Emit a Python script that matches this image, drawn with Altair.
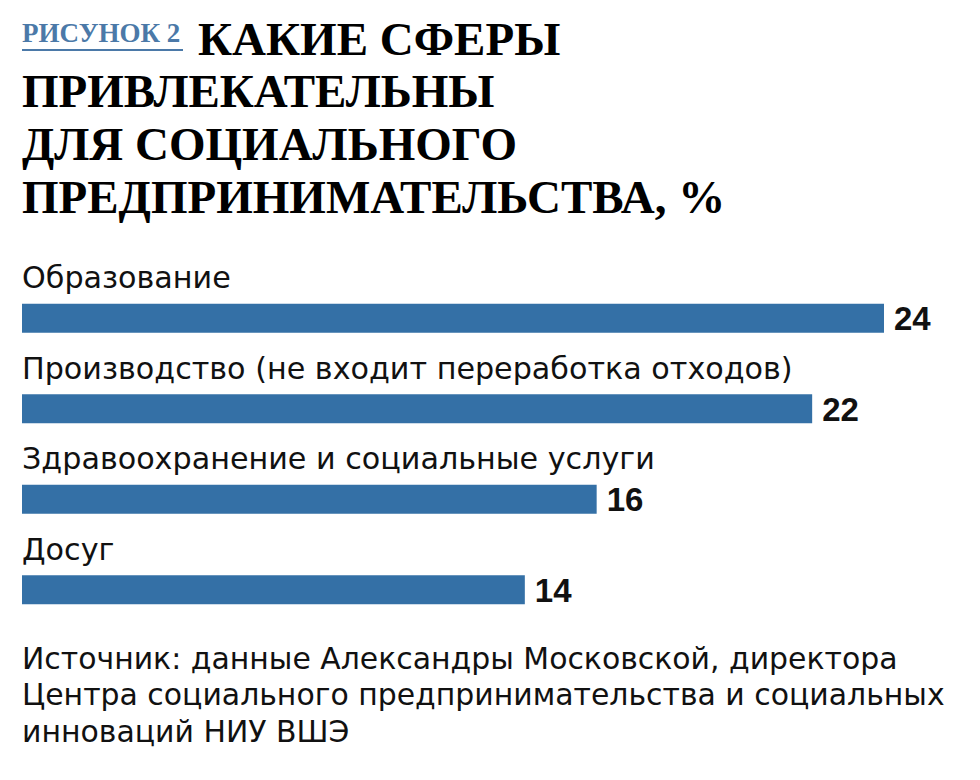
import altair as alt
import pandas as pd

categories = [
    "Образование",
    "Производство (не входит переработка отходов)",
    "Здравоохранение и социальные услуги",
    "Досуг",
]
values = [24, 22, 16, 14]

kicker = "РИСУНОК 2"
title_lines = [
    "КАКИЕ СФЕРЫ",
    "ПРИВЛЕКАТЕЛЬНЫ",
    "ДЛЯ СОЦИАЛЬНОГО",
    "ПРЕДПРИНИМАТЕЛЬСТВА, %",
]
source_lines = [
    "Источник: данные Александры Московской, директора",
    "Центра социального предпринимательства и социальных",
    "инноваций НИУ ВШЭ",
]

BAR = "#3470a6"
KICK = "#4b79a8"
SANS = "DejaVu Sans"
BOLD_SANS = "Liberation Sans"
SERIF = "Liberation Serif"

df = pd.DataFrame({"cat": categories, "val": values})

x = alt.X("val:Q", scale=alt.Scale(domain=[0, 24], range=[14, 876]), axis=None)
y = alt.Y("cat:N", sort=categories,
          scale=alt.Scale(range=[265, 627], paddingInner=0, paddingOuter=0), axis=None)

base = alt.Chart(df)

bars = base.mark_bar(height=29, color=BAR).encode(x=x, y=y)

cat_labels = base.mark_text(align="left", baseline="alphabetic", dy=-30,
                            font=SANS, fontSize=30.2, color="#111111").encode(
    x=alt.value(14), y=y, text="cat:N")

val_labels = base.mark_text(align="left", baseline="middle", dx=10, dy=2,
                            font=BOLD_SANS, fontSize=33, fontWeight="bold", color="#111111").encode(
    x=x, y=y, text="val:Q")

kick = alt.Chart(pd.DataFrame({"t": [kicker]})).mark_text(
    align="left", baseline="alphabetic", font=SERIF, fontSize=27, fontWeight="bold", color=KICK
).encode(x=alt.value(14), y=alt.value(34), text="t:N")

underline = alt.Chart(pd.DataFrame({"t": [kicker]})).mark_rule(color=KICK, strokeWidth=2).encode(
    x=alt.value(14), x2=alt.value(175), y=alt.value(42))

tdf = pd.DataFrame({
    "t": title_lines,
    "xp": [190, 14, 14, 14],
    "yp": [47, 99, 152, 205],
})
title = alt.Chart(tdf).mark_text(
    align="left", baseline="alphabetic", font=SERIF, fontSize=47, fontWeight="bold", color="#000000"
).encode(
    x=alt.X("xp:Q", scale=None, axis=None),
    y=alt.Y("yp:Q", scale=None, axis=None),
    text="t:N")

sdf = pd.DataFrame({"t": source_lines, "yp": [661, 697, 734]})
source = alt.Chart(sdf).mark_text(
    align="left", baseline="alphabetic", font=SANS, fontSize=29.9, color="#111111"
).encode(x=alt.value(14), y=alt.Y("yp:Q", scale=None, axis=None), text="t:N")

chart = alt.layer(bars, cat_labels, val_labels, kick, underline, title, source).properties(
    width=964, height=764, padding=0, background="white",
    autosize=alt.AutoSizeParams(type="none"),
).configure_view(stroke=None)

chart.save("out.html", embed_options={"renderer": "svg", "actions": False})
